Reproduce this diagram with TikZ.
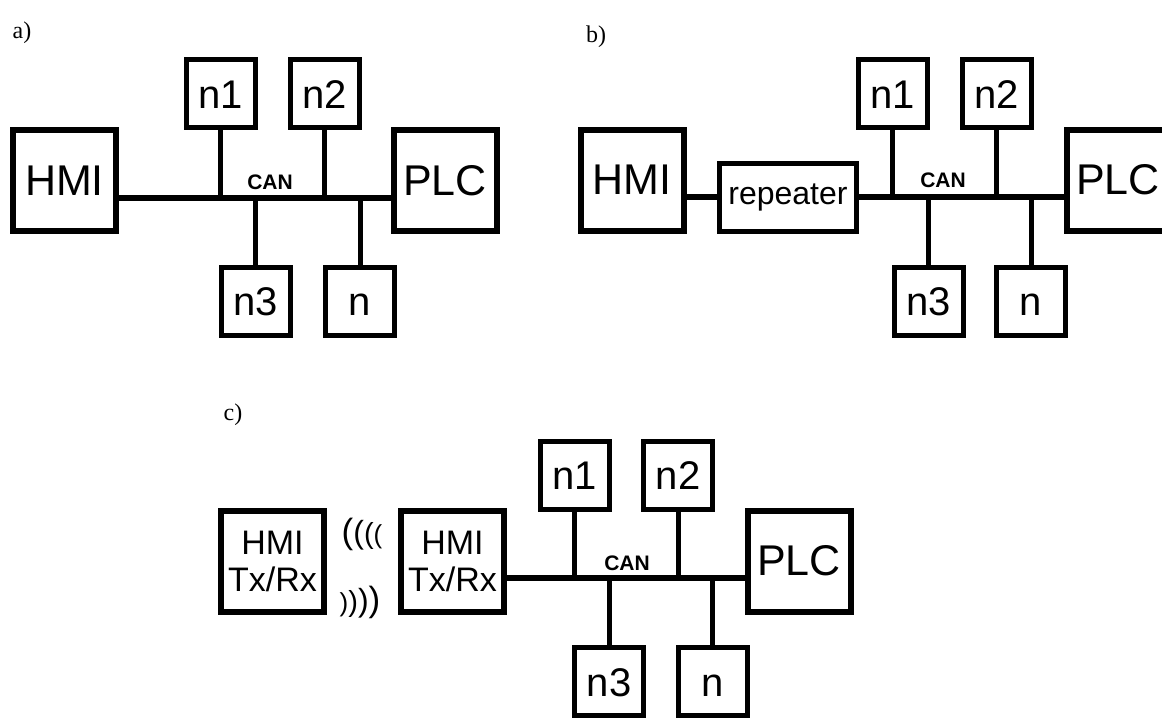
\documentclass[tikz,border=0pt]{standalone}
\usepackage{fontspec}
\setmainfont{Liberation Sans}
\newfontfamily\labelfont{Liberation Serif}
\begin{document}
\begin{tikzpicture}[x=1pt,y=-1pt,
  bigbox/.style={draw, line width=6pt, minimum width=103pt, minimum height=101pt, inner sep=0pt, align=center, font=\fontsize{43}{43}\selectfont},
  txbox/.style={bigbox, font=\fontsize{34}{37}\selectfont},
  smallbox/.style={draw, line width=5pt, minimum width=69pt, minimum height=68pt, inner sep=0pt, text height=29pt, text depth=0pt, font=\fontsize{40}{40}\selectfont},
  repbox/.style={draw, line width=5.5pt, minimum width=137pt, minimum height=68pt, inner sep=0pt, font=\fontsize{32}{32}\selectfont},
  busline/.style={line width=6pt},
  stub/.style={line width=5pt},
  canlabel/.style={font=\fontsize{21}{21}\selectfont\bfseries, inner sep=0pt},
  partlabel/.style={font=\labelfont\fontsize{24}{24}\selectfont, inner sep=0pt},
  wave/.style={inner sep=0pt}
]
\useasboundingbox (0,0) rectangle (1162,718);

% ---------- a) ----------
\node[partlabel] (la) at (22,33) {a)};
\node[bigbox] (HMIa) at (64.5,180.5) {HMI};
\node[bigbox] (PLCa) at (445,180.5) {PLC};
\node[smallbox] (n1a) at (220.5,93.5) {n1};
\node[smallbox] (n2a) at (324.5,93.5) {n2};
\node[smallbox] (n3a) at (255.5,301) {n3};
\node[smallbox] (na) at (360,301) {n};
\coordinate (busa) at (0,198);
\draw[busline] (HMIa.east |- busa) -- (PLCa.west |- busa);
\draw[stub] (n1a.south) -- (n1a.south |- busa);
\draw[stub] (n2a.south) -- (n2a.south |- busa);
\draw[stub] (n3a.north) -- (n3a.north |- busa);
\draw[stub] (na.north) -- (na.north |- busa);
\node[canlabel] (cana) at (270,182) {CAN};

% ---------- b) ----------
\node[partlabel] (lb) at (596,37) {b)};
\node[bigbox] (HMIb) at (632,180) {HMI};
\node[repbox] (rep) at (788,197.5) {repeater};
\node[bigbox] (PLCb) at (1118,180) {PLC};
\node[smallbox] (n1b) at (892.5,93.5) {n1};
\node[smallbox] (n2b) at (996.5,93.5) {n2};
\node[smallbox] (n3b) at (928.5,301) {n3};
\node[smallbox] (nb) at (1031,301) {n};
\coordinate (busb) at (0,197);
\draw[busline] (HMIb.east |- busb) -- (rep.west |- busb);
\draw[busline] (rep.east |- busb) -- (PLCb.west |- busb);
\draw[stub] (n1b.south) -- (n1b.south |- busb);
\draw[stub] (n2b.south) -- (n2b.south |- busb);
\draw[stub] (n3b.north) -- (n3b.north |- busb);
\draw[stub] (nb.north) -- (nb.north |- busb);
\node[canlabel] (canb) at (943,180) {CAN};

% ---------- c) ----------
\node[partlabel] (lc) at (233,415) {c)};
\node[txbox] (HMIc1) at (272.5,561) {HMI\\Tx/Rx};
\node[txbox] (HMIc2) at (452.5,561) {HMI\\Tx/Rx};
\node[bigbox] (PLCc) at (799,561) {PLC};
\node[smallbox] (n1c) at (574.5,475) {n1};
\node[smallbox] (n2c) at (678,475) {n2};
\node[smallbox] (n3c) at (609,681.5) {n3};
\node[smallbox] (nc) at (712.5,681.5) {n};
\coordinate (busc) at (0,578);
\draw[busline] (HMIc2.east |- busc) -- (PLCc.west |- busc);
\draw[stub] (n1c.south) -- (n1c.south |- busc);
\draw[stub] (n2c.south) -- (n2c.south |- busc);
\draw[stub] (n3c.north) -- (n3c.north |- busc);
\draw[stub] (nc.north) -- (nc.north |- busc);
\node[canlabel] (canc) at (627,563) {CAN};
\node[wave, anchor=base] (w1) at (362,543) {\fontsize{35}{35}\selectfont(\fontsize{32}{32}\selectfont(\fontsize{29}{29}\selectfont(\fontsize{26}{26}\selectfont(};
\node[wave, anchor=base] (w2) at (360,611) {\fontsize{26}{26}\selectfont)\fontsize{29}{29}\selectfont)\fontsize{32}{32}\selectfont)\fontsize{35}{35}\selectfont)};
\end{tikzpicture}
\end{document}
